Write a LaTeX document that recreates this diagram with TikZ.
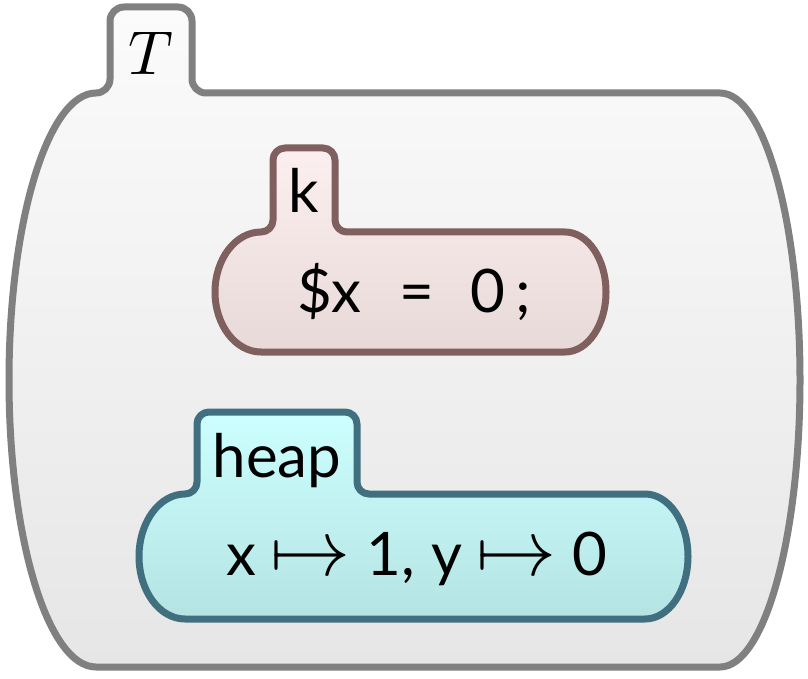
\documentclass[tikz,border=0pt]{standalone}
\usepackage{fontspec}
\newfontfamily\cellfamily{Lato}
\DeclareFontShape{OML}{cmm}{m}{it}{<->cmmi10}{}
\DeclareFontShape{OMS}{cmsy}{m}{n}{<->cmsy10}{}
\usetikzlibrary{positioning}
\definecolor{outerdraw}{RGB}{128,128,128}
\definecolor{outertop}{RGB}{251,251,251}
\definecolor{outerbot}{RGB}{230,230,230}
\definecolor{kdraw}{RGB}{127,96,94}
\definecolor{ktop}{RGB}{252,239,239}
\definecolor{kbot}{RGB}{231,217,216}
\definecolor{heapdraw}{RGB}{64,112,128}
\definecolor{heaptop}{RGB}{204,255,255}
\definecolor{heapbot}{RGB}{181,227,227}
\newcommand{\bigmapsto}{{\fontsize{40}{44}\selectfont$\mapsto$}}
\tikzset{
    cellline/.style={line width=3.5pt, line join=round},
    outercell/.style={cellline, draw=outerdraw, top color=outertop, bottom color=outerbot},
    kcell/.style={cellline, draw=kdraw, top color=ktop, bottom color=kbot},
    heapcell/.style={cellline, draw=heapdraw, top color=heaptop, bottom color=heapbot},
    celltext/.style={anchor=base, inner sep=0pt, font=\fontsize{30}{36}\selectfont\cellfamily},
    mathtext/.style={anchor=base, inner sep=0pt, font=\fontsize{31}{36}\selectfont}
}

\begin{document}
\begin{tikzpicture}[x=0.5pt, y=-0.5pt]
\useasboundingbox (0,0) rectangle (808,679);

% Outer cell T
\draw[outercell] (96,93) .. controls (103.7,93) and (110,86.7) .. (110,79)
    -- (110,21) .. controls (110,13.3) and (116.3,7) .. (124,7)
    -- (178,7) .. controls (185.7,7) and (192,13.3) .. (192,21)
    -- (192,79) .. controls (192,86.7) and (198.3,93) .. (206,93)
    -- (720,93) .. controls (764.2,93) and (800,221.5) .. (800,380)
    .. controls (800,538.5) and (764.2,667) .. (720,667)
    -- (96,667) .. controls (48,667) and (9,538.5) .. (9,380)
    .. controls (9,221.5) and (48,93) .. (96,93) -- cycle;
\node[mathtext] (tlabel) at (151,75) {$T$};

% Cell k
\draw[kcell] (261,232) .. controls (267.6,232) and (273,226.6) .. (273,220)
    -- (273,160) .. controls (273,153.4) and (278.4,148) .. (285,148)
    -- (323,148) .. controls (329.6,148) and (335,153.4) .. (335,160)
    -- (335,220) .. controls (335,226.6) and (340.4,232) .. (347,232)
    -- (565,232) .. controls (587.6,232) and (606,258.9) .. (606,292)
    .. controls (606,325.1) and (587.6,352) .. (565,352)
    -- (261,352) .. controls (235.6,352) and (215,325.1) .. (215,292)
    .. controls (215,258.9) and (235.6,232) .. (261,232) -- cycle;
\node[celltext] (klabel) at (304,213) {k};
\node[celltext] (kcontent) at (414,312) {\$x\hspace{19pt}=\hspace{18pt}0\hspace{5pt};};

% Cell heap
\draw[heapcell] (185,494) .. controls (191.6,494) and (197,488.6) .. (197,482)
    -- (197,424) .. controls (197,417.4) and (202.4,412) .. (209,412)
    -- (345,412) .. controls (351.6,412) and (357,417.4) .. (357,424)
    -- (357,482) .. controls (357,488.6) and (362.4,494) .. (369,494)
    -- (645,494) .. controls (668.7,494) and (688,522) .. (688,556.5)
    .. controls (688,591) and (668.7,619) .. (645,619)
    -- (185,619) .. controls (159.6,619) and (139,591) .. (139,556.5)
    .. controls (139,522) and (159.6,494) .. (185,494) -- cycle;
\node[celltext] (heaplabel) at (277,477) {heap};
\node[celltext] (heapcontent) at (417,575) {x\hspace{7pt}\bigmapsto\hspace{8pt}1,\hspace{8pt}y\hspace{7pt}\bigmapsto\hspace{8pt}0};

\end{tikzpicture}
\end{document}
